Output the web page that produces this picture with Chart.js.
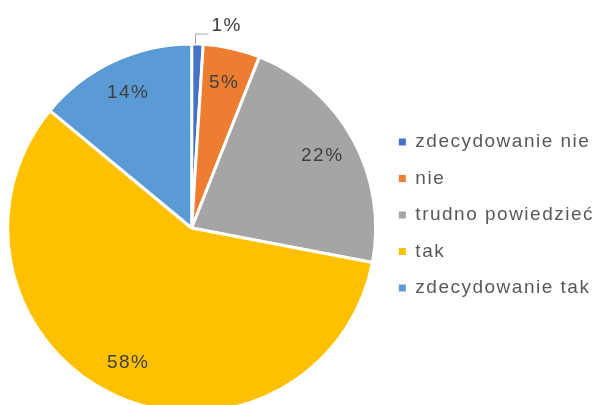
<!DOCTYPE html>
<html lang="pl">
<head>
<meta charset="utf-8">
<script src="https://cdn.jsdelivr.net/npm/chart.js@4.4.1/dist/chart.umd.min.js"></script>
<style>
html, body { margin: 0; padding: 0; background: #fff; overflow: hidden; }
</style>
</head>
<body>
<canvas id="pie" width="599" height="405"></canvas>
<script>
const kategorie = ['zdecydowanie nie', 'nie', 'trudno powiedzieć', 'tak', 'zdecydowanie tak'];
const procenty = [1, 5, 22, 58, 14];
const kolory = ['#4472C4', '#ED7D31', '#A5A5A5', '#FFC000', '#5B9BD5'];

const FONT = '"Liberation Sans", Arial, sans-serif';

// procenty na wycinkach; bardzo mały wycinek dostaje etykietę z odnośnikiem nad kołem
const etykiety = {
  id: 'etykiety',
  afterDatasetsDraw(chart) {
    const ctx = chart.ctx;
    const meta = chart.getDatasetMeta(0);
    ctx.save();
    ctx.letterSpacing = '1.5px';
    ctx.font = '19px ' + FONT;
    ctx.fillStyle = '#404040';
    ctx.textBaseline = 'middle';
    meta.data.forEach((arc, i) => {
      const p = arc.getProps(['x', 'y', 'startAngle', 'endAngle', 'outerRadius'], true);
      const mid = (p.startAngle + p.endAngle) / 2;
      const txt = procenty[i] + '%';
      if (procenty[i] < 3) {
        const ex = p.x + Math.cos(mid) * p.outerRadius - 2;
        const ey = p.y + Math.sin(mid) * p.outerRadius;
        ctx.strokeStyle = '#A6A6A6';
        ctx.lineWidth = 1;
        ctx.beginPath();
        ctx.moveTo(ex, ey);
        ctx.lineTo(ex, ey - 10);
        ctx.lineTo(ex + 13, ey - 10);
        ctx.stroke();
        ctx.textAlign = 'left';
        ctx.fillText(txt, ex + 16, ey - 18);
      } else {
        const r = p.outerRadius * 0.81;
        ctx.textAlign = 'center';
        ctx.fillText(txt, p.x + Math.cos(mid) * r, p.y + Math.sin(mid) * r);
      }
    });
    ctx.restore();
  }
};

// legenda trochę wyżej i w prawo względem domyślnego miejsca
const legendaPoz = {
  id: 'legendaPoz',
  beforeUpdate(chart) { chart.ctx.letterSpacing = '1.5px'; },
  afterLayout(chart) {
    const lg = chart.legend;
    lg.left += 5; lg.right += 5;
    lg.top -= 13; lg.bottom -= 13;
  }
};

const domyslneEtykiety = Chart.controllers.pie.overrides.plugins.legend.labels.generateLabels;

new Chart(document.getElementById('pie'), {
  type: 'pie',
  data: {
    labels: kategorie,
    datasets: [{
      data: procenty,
      backgroundColor: kolory,
      borderColor: '#ffffff',
      borderWidth: 3,
      radius: 184
    }]
  },
  options: {
    responsive: false,
    devicePixelRatio: 1,
    animation: false,
    events: [],
    layout: { padding: { left: 7, right: 0, top: 51, bottom: 0 } },
    plugins: {
      tooltip: { enabled: false },
      legend: {
        position: 'right',
        align: 'center',
        labels: {
          boxWidth: 7,
          boxHeight: 7,
          padding: 17.5,
          color: '#595959',
          font: { family: FONT, size: 19 },
          // kwadraciki bez białej obwódki wycinków
          generateLabels(chart) {
            return domyslneEtykiety(chart).map(it => Object.assign(it, { lineWidth: 0, strokeStyle: it.fillStyle }));
          }
        }
      }
    }
  },
  plugins: [etykiety, legendaPoz]
});
</script>
</body>
</html>
